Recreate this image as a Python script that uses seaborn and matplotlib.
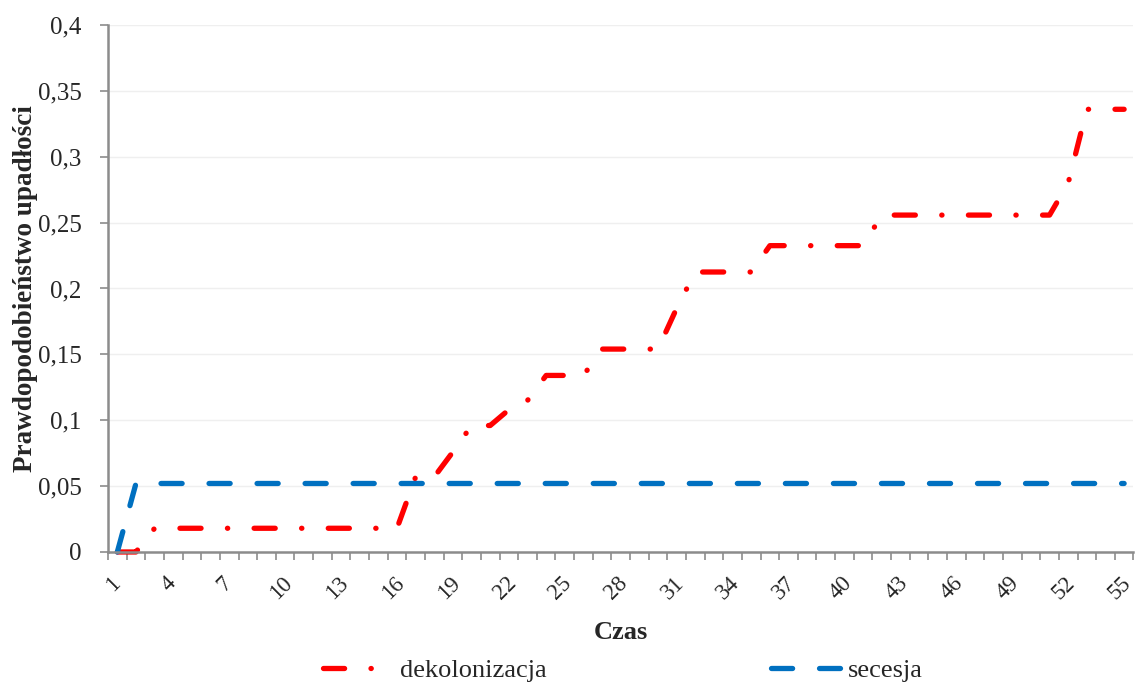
import numpy as np
import pandas as pd
import matplotlib
matplotlib.use("Agg")
import matplotlib.pyplot as plt
import matplotlib.transforms as mtransforms
import seaborn as sns
from matplotlib.ticker import FixedLocator, FuncFormatter

# ---- data ----
czas = list(range(1, 56))
dekolonizacja = ([0.0, 0.0] + [0.018] * 14                      # 1-16
                 + [0.057, 0.057, 0.076, 0.096, 0.096, 0.108, 0.115]  # 17-23
                 + [0.134] * 3 + [0.154] * 4 + [0.185]            # 24-31
                 + [0.2125] * 4 + [0.2325] * 6                    # 32-41
                 + [0.2557] * 10 + [0.28] + [0.336] * 3)          # 42-55
secesja = [0.0] + [0.052] * 54
series_names = ["dekolonizacja", "secesja"]
colors = ["#FF0000", "#0070C0"]
x_tick_labels = list(range(1, 56, 3))
y_ticks = [0, 0.05, 0.1, 0.15, 0.2, 0.25, 0.3, 0.35, 0.4]

df = pd.DataFrame({"Czas": czas * 2,
                   "value": dekolonizacja + secesja,
                   "series": [series_names[0]] * 55 + [series_names[1]] * 55})

sns.set_style("white")
plt.rcParams["font.family"] = ["Liberation Serif", "DejaVu Serif"]

fig = plt.figure(figsize=(11.38, 6.84), dpi=100)
ax = fig.add_axes([0.0949, 0.193, 0.9011, 0.7705])

sns.lineplot(data=df, x="Czas", y="value", hue="series", palette=colors,
             linewidth=3.8, ax=ax, legend=False)

lines = ax.get_lines()
lines[0].set_dashes([4, 5.0, 0.05, 5.0])
lines[1].set_dashes([4, 5.1])
for ln in lines:
    ln.set_dash_capstyle("round")
    ln.set_solid_capstyle("round")
    ln.set_clip_on(False)

ax.set_xlim(0.5, 55.5)
ax.set_ylim(0, 0.4)
ax.set_yticks(y_ticks)
ax.yaxis.set_major_formatter(FuncFormatter(lambda v, p: ("%g" % round(v, 2)).replace(".", ",")))
ax.set_xticks(x_tick_labels)
ax.set_xticklabels([str(v) for v in x_tick_labels], rotation=45, ha="center", va="top",
                   fontsize=16.5)
ax.xaxis.set_minor_locator(FixedLocator(np.arange(0.5, 56, 1)))
ax.tick_params(axis="x", which="major", length=0, pad=15)
ax.tick_params(axis="x", which="minor", length=6, width=1.2, color="#8c8c8c", direction="out", bottom=True)
ax.tick_params(axis="y", which="major", length=6, width=1.2, color="#8c8c8c", direction="out",
               left=True, labelsize=18, pad=13)

ax.grid(axis="y", color="#efefef", linewidth=1)
ax.set_axisbelow(True)
for s in ["top", "right"]:
    ax.spines[s].set_visible(False)
for s in ["left", "bottom"]:
    ax.spines[s].set_color("#8c8c8c")
    ax.spines[s].set_linewidth(1.8)

ax.set_xlabel("Czas", fontsize=19, fontweight="bold", labelpad=12)
ax.set_ylabel("Prawdopodobieństwo upadłości", fontsize=19.5, fontweight="bold", labelpad=0)

handles = [lines[0], lines[1]]
fig.legend(handles, series_names, loc="center", bbox_to_anchor=(0.547, 0.02), ncol=2,
           frameon=False, fontsize=19, handlelength=2.65, columnspacing=8.5, handletextpad=0.27)

# shift the rotated x tick labels slightly left, after ticks are created
fig.canvas.draw()
shift = mtransforms.ScaledTranslation(-3.0 / 72, 0, fig.dpi_scale_trans)
for lbl in ax.get_xticklabels():
    lbl.set_transform(lbl.get_transform() + shift)

fig.savefig("out.png", dpi=100)
